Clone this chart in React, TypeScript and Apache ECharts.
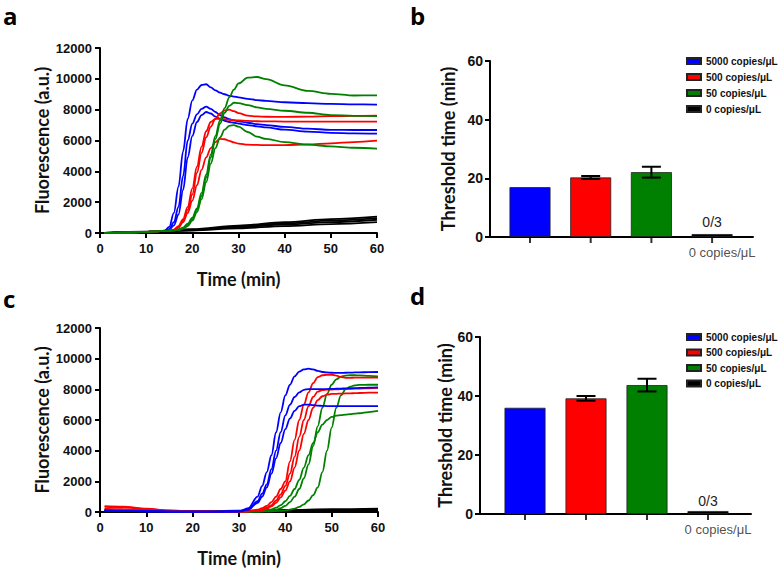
import React, { useEffect, useRef } from "react";
import * as echarts from "echarts";

// ---------- Panel a (fluorescence curves, run 1) ----------
const tA = [1, 5, 10, 12, 14, 15, 16, 17, 18, 19, 20, 21, 22, 23, 24, 25, 26, 27, 28, 29, 30, 32, 34, 36, 40, 45, 50, 55, 60];
const aBlue1 = [0, 20, 70, 100, 150, 400, 1300, 3000, 5300, 7400, 8600, 9300, 9600, 9650, 9450, 9250, 9100, 9000, 8900, 8850, 8800, 8700, 8620, 8570, 8480, 8420, 8370, 8340, 8330];
const aBlue2 = [0, 20, 70, 100, 140, 250, 700, 1700, 3700, 6000, 7100, 7700, 8050, 8200, 8050, 7850, 7650, 7500, 7380, 7300, 7250, 7150, 7060, 7000, 6880, 6770, 6690, 6680, 6680];
const aBlue3 = [0, 20, 70, 100, 130, 200, 500, 1200, 2800, 4900, 6300, 7200, 7650, 7850, 7750, 7550, 7400, 7280, 7200, 7150, 7100, 7000, 6920, 6850, 6700, 6580, 6500, 6460, 6440];
const aRed1 = [0, 20, 70, 100, 130, 150, 200, 400, 800, 1500, 2500, 3900, 5200, 6200, 6900, 7400, 7750, 7950, 8000, 7900, 7780, 7610, 7560, 7540, 7530, 7550, 7580, 7600, 7610];
const aRed2 = [0, 20, 70, 100, 130, 150, 220, 450, 900, 1700, 2900, 4300, 5600, 6600, 7200, 7400, 7420, 7380, 7340, 7320, 7300, 7270, 7250, 7240, 7230, 7220, 7220, 7220, 7220];
const aRed3 = [0, 20, 70, 100, 130, 150, 200, 350, 700, 1300, 2100, 3100, 4100, 4900, 5500, 5900, 6100, 6080, 5980, 5880, 5800, 5730, 5710, 5700, 5700, 5750, 5820, 5900, 5990];
const aGreen1 = [0, 20, 70, 100, 130, 150, 180, 230, 350, 600, 1000, 1600, 2600, 3800, 5100, 6300, 7300, 8100, 8800, 9300, 9700, 10080, 10120, 9980, 9580, 9220, 9030, 8920, 8930];
const aGreen2 = [0, 20, 70, 100, 130, 150, 170, 210, 300, 500, 900, 1500, 2400, 3600, 4900, 6100, 7100, 7800, 8250, 8450, 8420, 8300, 8150, 8050, 7930, 7800, 7650, 7600, 7590];
const aGreen3 = [0, 20, 70, 100, 130, 150, 170, 200, 280, 450, 800, 1350, 2200, 3300, 4500, 5500, 6200, 6700, 6950, 7000, 6900, 6550, 6250, 6100, 5900, 5730, 5620, 5530, 5470];
const tK = [1, 10, 20, 30, 40, 50, 60];
const aBlack1 = [0, 80, 250, 480, 700, 900, 1060];
const aBlack2 = [0, 70, 220, 420, 620, 800, 960];
const aBlack3 = [0, 60, 190, 370, 550, 710, 860];
const aBlack4 = [0, 50, 160, 300, 450, 580, 700];

// ---------- Panel c (fluorescence curves, run 2) ----------
const tC = [1, 5, 10, 15, 20, 25, 30, 32, 34, 35, 36, 37, 38, 39, 40, 41, 42, 43, 44, 45, 46, 47, 48, 49, 50, 51, 52, 53, 54, 55, 56, 58, 60];
const cBlue1 = [80, 70, 50, 30, 25, 25, 50, 250, 1000, 1700, 2600, 3700, 5200, 6500, 7600, 8300, 8850, 9150, 9300, 9350, 9300, 9200, 9130, 9100, 9080, 9070, 9070, 9080, 9090, 9100, 9110, 9120, 9130];
const cBlue2 = [80, 70, 50, 30, 25, 25, 40, 180, 700, 1200, 1800, 2800, 4000, 5200, 6300, 7000, 7500, 7800, 7970, 8020, 8020, 8010, 8010, 8020, 8030, 8040, 8050, 8060, 8070, 8080, 8090, 8110, 8130];
const cBlue3 = [80, 70, 50, 30, 25, 25, 40, 150, 600, 1000, 1600, 2500, 3500, 4500, 5400, 6100, 6600, 6900, 7000, 7000, 6970, 6940, 6920, 6910, 6900, 6900, 6900, 6900, 6900, 6905, 6910, 6910, 6910];
const cRed1 = [380, 350, 220, 100, 40, 30, 30, 50, 150, 250, 400, 650, 1000, 1500, 2000, 3300, 4700, 6000, 7000, 7800, 8400, 8800, 8920, 8950, 8950, 8900, 8800, 8750, 8750, 8760, 8770, 8770, 8770];
const cRed2 = [330, 300, 190, 90, 40, 30, 30, 40, 100, 170, 280, 450, 750, 1150, 1700, 2500, 3600, 4900, 6000, 6900, 7500, 7850, 7950, 7980, 7990, 8000, 8010, 8020, 8030, 8040, 8050, 8070, 8090];
const cRed3 = [200, 190, 130, 70, 35, 30, 30, 35, 80, 130, 220, 370, 600, 950, 1400, 2000, 2900, 4000, 5100, 6000, 6800, 7300, 7550, 7650, 7700, 7710, 7720, 7730, 7740, 7750, 7760, 7780, 7790];
const cGreen1 = [150, 130, 90, 50, 30, 25, 25, 30, 40, 50, 70, 100, 150, 250, 400, 650, 1000, 1500, 2200, 3100, 4300, 5600, 6800, 7700, 8300, 8650, 8830, 8900, 8920, 8920, 8910, 8880, 8850];
const cGreen2 = [150, 130, 90, 50, 30, 25, 25, 25, 30, 35, 40, 50, 60, 80, 100, 150, 220, 330, 500, 750, 1100, 1600, 2600, 4000, 5500, 6800, 7600, 8000, 8180, 8260, 8290, 8300, 8300];
const cGreen3 = [150, 130, 90, 50, 30, 25, 25, 30, 50, 70, 110, 170, 280, 450, 700, 1050, 1500, 2100, 2900, 3700, 4500, 5200, 5700, 6000, 6200, 6280, 6320, 6350, 6380, 6410, 6440, 6520, 6590];
const cBlack1 = [60, 50, 40, 80, 130, 180, 220];
const cBlack2 = [50, 40, 30, 60, 100, 130, 160];
const cBlack3 = [40, 30, 20, 40, 70, 90, 110];

// ---------- Panels b and d (threshold times) ----------
const groups = ["5000 copies/μL", "500 copies/μL", "50 copies/μL", "0 copies/μL"];
const groupColors = ["#0000ff", "#ff0000", "#008000", "#000000"];
const bMeans = [17.0, 20.3, 22.1, 1.0];
const bErr = [0, 0.5, 1.85, 0];
const dMeans = [36.0, 39.2, 43.7, 1.0];
const dErr = [0, 0.8, 2.15, 0];
const positives = ["", "", "", "0/3"];
const xTickLabels = ["", "", "", "0 copies/μL"];

const BLUE = "#0000ff";
const RED = "#ff0000";
const GREEN = "#008000";
const BLACK = "#000000";

const pair = (t: number[], v: number[]) => t.map((x, i) => [x, v[i]]);

function lineSeries(idx: number, t: number[], v: number[], color: string) {
  return {
    type: "line",
    xAxisIndex: idx,
    yAxisIndex: idx,
    data: pair(t, v),
    smooth: 0.35,
    smoothMonotone: "x",
    symbol: "none",
    showSymbol: false,
    silent: true,
    lineStyle: { color, width: 1.8 },
    itemStyle: { color },
    z: color === BLACK ? 1 : 2,
  };
}

const tickFont = { fontFamily: "Liberation Sans", fontWeight: "bold", color: "#111" };
const titleFont = { fontFamily: "Lato", fontWeight: "bold", fontSize: 18, color: "#111" };
const plain = (v: number) => String(v);

function curveXAxis(grid: number) {
  return {
    gridIndex: grid,
    type: "value",
    min: 0,
    max: 60,
    interval: 10,
    name: "Time (min)",
    nameLocation: "middle",
    nameGap: 37,
    nameTextStyle: titleFont,
    axisLine: { show: true, onZero: false, lineStyle: { color: "#000", width: 2 } },
    axisTick: { show: true, length: 5, lineStyle: { color: "#000", width: 2 } },
    axisLabel: { ...tickFont, fontSize: 13, margin: 9, formatter: plain },
    splitLine: { show: false },
  };
}
function curveYAxis(grid: number) {
  return {
    gridIndex: grid,
    type: "value",
    min: 0,
    max: 12000,
    interval: 2000,
    name: "Fluorescence (a.u.)",
    nameLocation: "middle",
    nameRotate: 90,
    nameGap: 49,
    nameTextStyle: titleFont,
    axisLine: { show: true, onZero: false, lineStyle: { color: "#000", width: 2 } },
    axisTick: { show: true, length: 5, lineStyle: { color: "#000", width: 2 } },
    axisLabel: { ...tickFont, fontSize: 13, margin: 8, formatter: plain },
    splitLine: { show: false },
  };
}
function barXAxis(grid: number, min: number, max: number) {
  return {
    gridIndex: grid,
    type: "value",
    min,
    max,
    axisLine: { show: true, onZero: false, lineStyle: { color: "#000", width: 2 } },
    axisTick: { show: false },
    axisLabel: { show: false },
    splitLine: { show: false },
  };
}
function barYAxis(grid: number, gap: number) {
  return {
    gridIndex: grid,
    type: "value",
    min: 0,
    max: 60,
    interval: 20,
    name: "Threshold time (min)",
    nameLocation: "middle",
    nameRotate: 90,
    nameGap: gap,
    nameTextStyle: titleFont,
    axisLine: { show: true, onZero: false, lineStyle: { color: "#000", width: 2 } },
    axisTick: { show: true, length: 5, lineStyle: { color: "#000", width: 2 } },
    axisLabel: { ...tickFont, fontSize: 14, margin: 7, formatter: plain },
    splitLine: { show: false },
  };
}

function barPanel(idx: number, means: number[], errs: number[], labelDist: number) {
  const out: any[] = [];
  groups.forEach((g, i) => {
    out.push({
      type: "bar",
      name: g,
      xAxisIndex: idx,
      yAxisIndex: idx,
      barWidth: 41,
      barGap: "-100%",
      data: [
        {
          value: [i, means[i]],
          label: positives[i]
            ? {
                show: true,
                position: "top",
                distance: labelDist,
                formatter: positives[i],
                fontFamily: "Liberation Sans",
                fontSize: 14,
                color: "#222",
              }
            : { show: false },
        },
      ],
      itemStyle: { color: groupColors[i], borderColor: "#222", borderWidth: 0.8 },
      silent: true,
    });
  });
  out.push({
    type: "custom",
    xAxisIndex: idx,
    yAxisIndex: idx,
    silent: true,
    z: 10,
    data: means.map((m, i) => [i, m - errs[i], m + errs[i]]),
    renderItem: (_p: any, api: any) => {
      const x = api.value(0);
      const loV = api.value(1);
      const hiV = api.value(2);
      if (hiV - loV <= 0) return null;
      const hi = api.coord([x, hiV]);
      const lo = api.coord([x, loV]);
      const hw = 9.5;
      const st = { stroke: "#000", lineWidth: 2 };
      return {
        type: "group",
        children: [
          { type: "line", shape: { x1: hi[0], y1: hi[1], x2: lo[0], y2: lo[1] }, style: st },
          { type: "line", shape: { x1: hi[0] - hw, y1: hi[1], x2: hi[0] + hw, y2: hi[1] }, style: st },
          { type: "line", shape: { x1: lo[0] - hw, y1: lo[1], x2: lo[0] + hw, y2: lo[1] }, style: st },
        ],
      };
    },
  });
  out.push({
    type: "scatter",
    xAxisIndex: idx,
    yAxisIndex: idx,
    silent: true,
    clip: false,
    symbol: "rect",
    symbolSize: [2, 6],
    symbolOffset: [0, 3],
    itemStyle: { color: "#000" },
    z: 5,
    data: groups.map((_, i) => ({
      value: [i, 0],
      label: xTickLabels[i]
        ? {
            show: true,
            position: "bottom",
            distance: 3,
            offset: [10, 0],
            formatter: xTickLabels[i],
            fontFamily: "Liberation Sans",
            fontSize: 13,
            color: "#222",
          }
        : { show: false },
    })),
  });
  return out;
}

function legendAt(top: number, gap: number) {
  return {
    data: groups,
    orient: "vertical",
    left: 686,
    top,
    itemWidth: 14,
    itemHeight: 6,
    itemGap: gap,
    icon: "rect",
    selectedMode: false,
    textStyle: { fontFamily: "Liberation Sans", fontWeight: "bold", fontSize: 10, color: "#111" },
    padding: 0,
  };
}

export default function App() {
  const ref = useRef<HTMLDivElement>(null);
  useEffect(() => {
    if (!ref.current) return;
    const chart = echarts.init(ref.current, undefined, { renderer: "svg" });
    const series: any[] = [
      lineSeries(0, tK, aBlack1, BLACK),
      lineSeries(0, tK, aBlack2, BLACK),
      lineSeries(0, tK, aBlack3, BLACK),
      lineSeries(0, tK, aBlack4, BLACK),
      lineSeries(0, tA, aBlue1, BLUE),
      lineSeries(0, tA, aBlue2, BLUE),
      lineSeries(0, tA, aBlue3, BLUE),
      lineSeries(0, tA, aRed1, RED),
      lineSeries(0, tA, aRed2, RED),
      lineSeries(0, tA, aRed3, RED),
      lineSeries(0, tA, aGreen1, GREEN),
      lineSeries(0, tA, aGreen2, GREEN),
      lineSeries(0, tA, aGreen3, GREEN),
      ...barPanel(1, bMeans, bErr, 5),
      lineSeries(2, tK, cBlack1, BLACK),
      lineSeries(2, tK, cBlack2, BLACK),
      lineSeries(2, tK, cBlack3, BLACK),
      lineSeries(2, tC, cGreen1, GREEN),
      lineSeries(2, tC, cGreen2, GREEN),
      lineSeries(2, tC, cGreen3, GREEN),
      lineSeries(2, tC, cRed1, RED),
      lineSeries(2, tC, cRed2, RED),
      lineSeries(2, tC, cRed3, RED),
      lineSeries(2, tC, cBlue1, BLUE),
      lineSeries(2, tC, cBlue2, BLUE),
      lineSeries(2, tC, cBlue3, BLUE),
      ...barPanel(3, dMeans, dErr, 3),
    ];
    const panelFont = 'bold 24px "Open Sans"';
    chart.setOption({
      animation: false,
      backgroundColor: "#ffffff",
      textStyle: { fontFamily: "Liberation Sans" },
      grid: [
        { left: 100, top: 48, width: 277, height: 185 },
        { left: 490, top: 61, width: 263, height: 176 },
        { left: 100, top: 328, width: 278, height: 184 },
        { left: 480, top: 337, width: 271, height: 177 },
      ],
      xAxis: [curveXAxis(0), barXAxis(1, -0.659, 3.674), curveXAxis(2), barXAxis(3, -0.738, 3.705)],
      yAxis: [curveYAxis(0), barYAxis(1, 33), curveYAxis(2), barYAxis(3, 23)],
      legend: [legendAt(56, 6), legendAt(332, 5.5)],
      graphic: [
        { type: "text", left: 3, top: 3, style: { text: "a", font: panelFont, fill: "#000" } },
        { type: "text", left: 410, top: 3, style: { text: "b", font: panelFont, fill: "#000" } },
        { type: "text", left: 3, top: 286, style: { text: "c", font: panelFont, fill: "#000" } },
        { type: "text", left: 410, top: 283, style: { text: "d", font: panelFont, fill: "#000" } },
      ],
      series,
    });
    return () => chart.dispose();
  }, []);
  return (
    <div
      ref={ref}
      style={{ position: "fixed", left: 0, top: 0, width: 780, height: 570, background: "#fff" }}
    />
  );
}
